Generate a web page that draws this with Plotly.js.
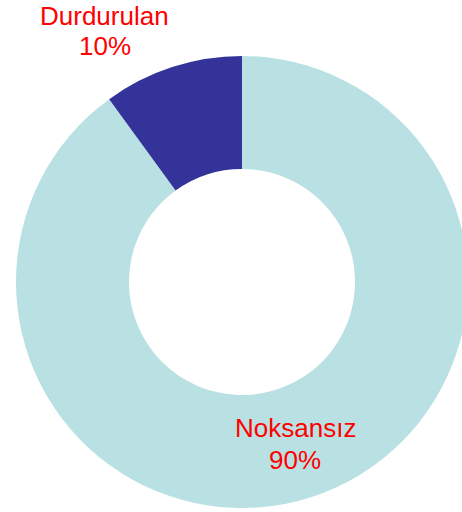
<!DOCTYPE html>
<html>
<head>
<meta charset="utf-8">
<script src="https://cdn.plot.ly/plotly-3.0.1.min.js"></script>
<style>
  html, body { margin: 0; padding: 0; overflow: hidden; background: #fff; }
</style>
</head>
<body>
<div id="chart" style="width:470px;height:512px;"></div>
<script>
// Data
const labels = ['Noksansız', 'Durdurulan'];
const values = [90, 10];
const sliceColors = ['#B9E0E3', '#333399'];

// label placement (paper coords): [x, y of name line, y of percent line]
const labelPos = [[0.6173, 0.1770, 0.1062], [0.1969, 1.0885, 1.0221]];

const total = values.reduce((a, b) => a + b, 0);
const labelFont = {family: 'Liberation Sans, Arial, sans-serif', size: 26, color: '#FF0000'};

const annotations = [];
labels.forEach((name, i) => {
    const pct = Math.round(values[i] / total * 100) + '%';
    [name, pct].forEach((txt, j) => {
        annotations.push({
            xref: 'paper', yref: 'paper',
            x: labelPos[i][0], y: labelPos[i][j + 1],
            xanchor: 'center', yanchor: 'middle',
            text: txt, showarrow: false, font: labelFont
        });
    });
});

Plotly.newPlot('chart', [{
    type: 'pie',
    labels: labels,
    values: values,
    hole: 0.5,
    sort: false,
    direction: 'clockwise',
    rotation: 0,
    marker: {colors: sliceColors, line: {width: 0}},
    textinfo: 'none',
    hoverinfo: 'label+percent',
    showlegend: false
}], {
    width: 470,
    height: 512,
    margin: {l: 16, r: 2, t: 56, b: 4},
    paper_bgcolor: '#ffffff',
    showlegend: false,
    annotations: annotations
}, {displayModeBar: false, staticPlot: true});
</script>
</body>
</html>
